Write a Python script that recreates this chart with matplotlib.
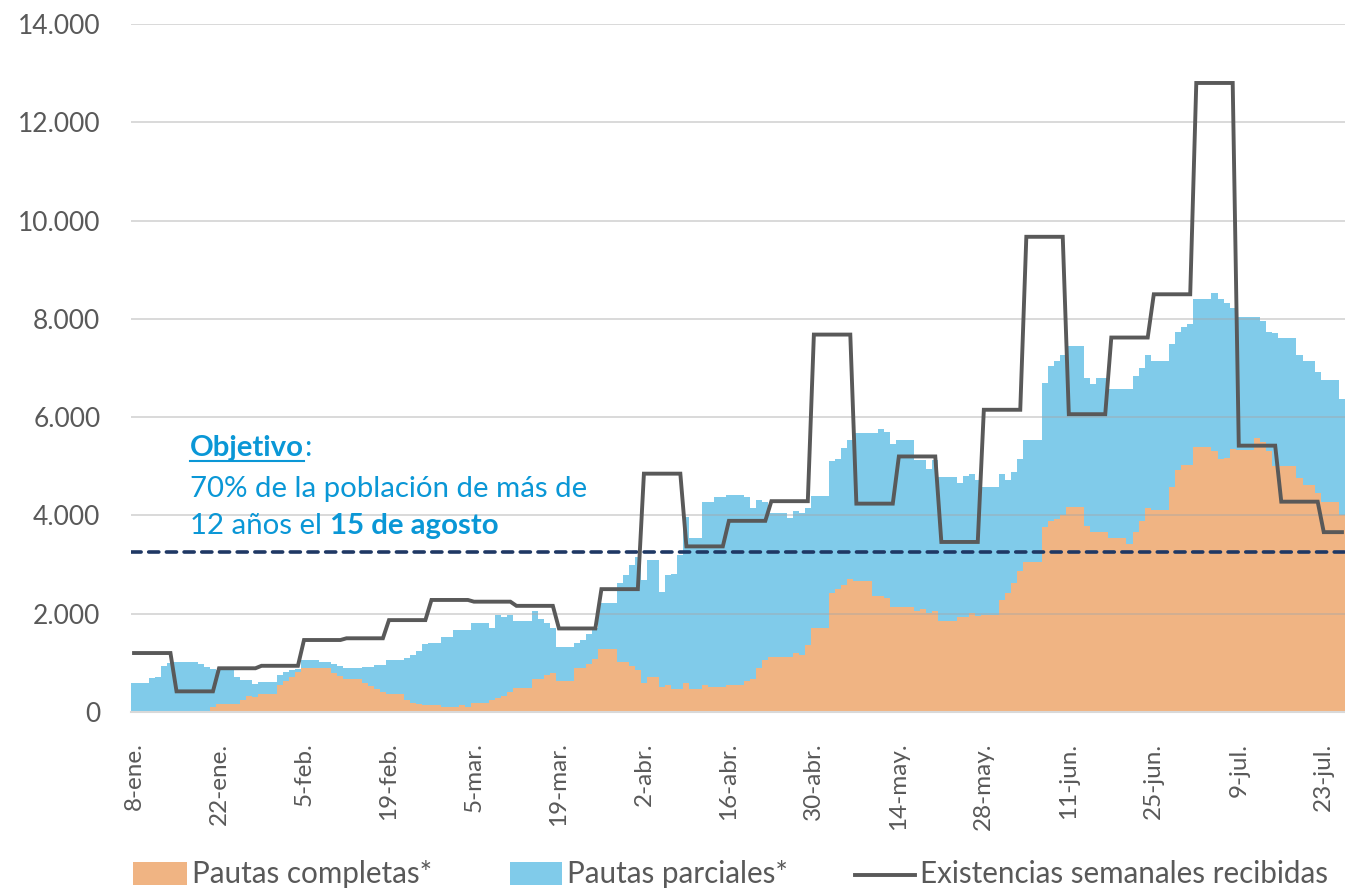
import matplotlib
matplotlib.use("Agg")
import matplotlib.pyplot as plt
import numpy as np
from matplotlib.lines import Line2D
from matplotlib.patches import Rectangle
from matplotlib.ticker import FuncFormatter

# daily values, 8-ene .. 26-jul (200 days)
pautas_completas = [
    0, 0, 0, 0, 0, 0, 0, 0, 0, 0,
    0, 0, 0, 110, 155, 155, 155, 155, 245, 325,
    300, 365, 365, 365, 550, 640, 705, 810, 890, 900,
    900, 900, 900, 800, 740, 665, 665, 665, 585, 530,
    460, 415, 365, 365, 365, 245, 190, 155, 140, 140,
    140, 110, 110, 110, 140, 110, 190, 190, 190, 245,
    290, 325, 415, 495, 495, 495, 670, 670, 755, 800,
    630, 630, 630, 890, 890, 970, 1070, 1275, 1275, 1275,
    1025, 1025, 935, 855, 585, 705, 705, 515, 550, 460,
    460, 585, 460, 460, 550, 500, 500, 500, 550, 550,
    550, 635, 670, 890, 1060, 1115, 1115, 1115, 1115, 1195,
    1160, 1365, 1715, 1715, 1715, 2415, 2495, 2585, 2705, 2665,
    2665, 2665, 2365, 2365, 2315, 2145, 2145, 2145, 2145, 2060,
    2100, 2020, 2060, 1850, 1850, 1850, 1925, 1925, 2010, 1960,
    1975, 1975, 1975, 2280, 2415, 2620, 2875, 3060, 3060, 3060,
    3760, 3885, 3920, 4010, 4180, 4180, 4180, 3790, 3670, 3670,
    3670, 3535, 3535, 3535, 3410, 3670, 3885, 4145, 4110, 4110,
    4110, 4570, 4925, 5025, 5025, 5400, 5400, 5400, 5310, 5140,
    5175, 5350, 5330, 5330, 5330, 5570, 5500, 5320, 5015, 5015,
    5015, 5015, 4755, 4620, 4620, 4450, 4280, 4280, 4280, 4010,
]

pautas_parciales = [
    590, 590, 590, 690, 720, 940, 1000, 1020, 1020, 1020,
    1020, 980, 920, 880, 855, 855, 855, 705, 650, 650,
    570, 620, 620, 620, 750, 820, 855, 880, 1060, 1060,
    1060, 1025, 1025, 975, 935, 890, 890, 890, 920, 920,
    955, 955, 1060, 1060, 1060, 1105, 1160, 1240, 1375, 1410,
    1410, 1535, 1535, 1670, 1670, 1670, 1805, 1805, 1805, 1715,
    1975, 1940, 1975, 1850, 1850, 1850, 2060, 1885, 1805, 1705,
    1330, 1330, 1330, 1410, 1465, 1585, 1705, 2225, 2225, 2225,
    2620, 2790, 2990, 3160, 2685, 3095, 3095, 2450, 2790, 2800,
    3195, 3975, 3535, 3535, 4280, 4280, 4380, 4380, 4415, 4415,
    4415, 4380, 4145, 4315, 4280, 4055, 4055, 4055, 3940, 4095,
    4055, 4150, 4395, 4395, 4395, 5110, 5140, 5365, 5535, 5670,
    5670, 5670, 5670, 5750, 5705, 5455, 5535, 5535, 5535, 5130,
    5130, 4940, 5130, 4790, 4790, 4790, 4665, 4800, 4845, 4720,
    4585, 4585, 4585, 4845, 4720, 4875, 5140, 5535, 5535, 5535,
    6700, 7050, 7145, 7265, 7450, 7450, 7450, 6790, 6670, 6790,
    6790, 6575, 6575, 6575, 6575, 6840, 7005, 7265, 7150, 7150,
    7150, 7490, 7740, 7840, 7890, 8400, 8400, 8400, 8520, 8400,
    8315, 8230, 8045, 8045, 8045, 8045, 7965, 7740, 7705, 7620,
    7620, 7620, 7265, 7145, 7145, 6925, 6755, 6755, 6755, 6360,
]

# one value per week, starting 8-ene
existencias_semanales = [
    1200, 420, 890, 940, 1465, 1500, 1870, 2280, 2245, 2160,
    1700, 2500, 4850, 3370, 3890, 4290, 7680, 4240, 5200, 3460,
    6150, 9670, 6060, 7620, 8500, 12800, 5420, 4280, 3660,
]

objetivo = 3250

tick_labels = ["8-ene.", "22-ene.", "5-feb.", "19-feb.", "5-mar.", "19-mar.",
               "2-abr.", "16-abr.", "30-abr.", "14-may.", "28-may.", "11-jun.",
               "25-jun.", "9-jul.", "23-jul."]

ORANGE = "#F0B483"
BLUE = "#80CBEA"
LINE = "#595959"
NAVY = "#1F3864"
TXT_BLUE = "#0A97D6"
GREY = "#595959"
FONT = ["Lato", "DejaVu Sans"]

plt.rcParams["font.family"] = FONT

W, H = 1345, 891
fig = plt.figure(figsize=(W / 100, H / 100), dpi=100)
ax = fig.add_axes([131 / W, 179 / H, 1214 / W, 688 / H])

n = len(pautas_completas)
edges = np.arange(n + 1) - 0.5
ax.stairs(pautas_parciales, edges, fill=True, color=BLUE, lw=0, zorder=1)
ax.stairs(pautas_completas, edges, fill=True, color=ORANGE, lw=0, zorder=1.2)

# weekly stock: flat over each week, joined day to day
lx, ly = [], []
for w, v in enumerate(existencias_semanales):
    start = 7 * w
    end = min(start + 6, n - 1)
    lx += [start, end]
    ly += [v, v]
ax.plot(lx, ly, color=LINE, lw=2.8, zorder=4, solid_joinstyle="miter")

ax.axhline(objetivo, color=NAVY, lw=2.6, dashes=(2.8, 2.1),
           dash_capstyle="round", zorder=3.5)

ax.set_xlim(-0.5, n - 0.5)
ax.set_ylim(0, 14000)
ax.set_yticks(range(0, 14001, 2000))
ax.yaxis.set_major_formatter(FuncFormatter(lambda v, _: f"{int(v):,}".replace(",", ".")))
ax.set_xticks(np.arange(len(tick_labels)) * 14)
ax.set_xticklabels(tick_labels, rotation=90, ha="center", va="top")

ax.grid(axis="y", color="#A6A6A6", alpha=0.45, lw=1.3)
ax.set_axisbelow(False)
for s in ["top", "right", "left"]:
    ax.spines[s].set_visible(False)
ax.spines["bottom"].set_color("#D9D9D9")
ax.spines["bottom"].set_linewidth(1.5)
ax.spines["bottom"].set_zorder(5)
ax.tick_params(axis="y", length=0, pad=22, labelsize=19, labelcolor=GREY)
ax.tick_params(axis="x", length=0, pad=22, labelsize=17.5, labelcolor=GREY)

# annotation
FS = 21.2
renderer = fig.canvas.get_renderer()
x0 = 190 / W
t1 = fig.text(x0, 1 - 456 / H, "Objetivo", color=TXT_BLUE, fontsize=FS,
              fontweight="bold", va="baseline")
bb = t1.get_window_extent(renderer)
fig.text(bb.x1 / W, 1 - 456 / H, ":", color=TXT_BLUE, fontsize=FS, va="baseline")
fig.add_artist(Line2D([bb.x0 / W, bb.x1 / W], [1 - 461 / H] * 2,
                      color=TXT_BLUE, lw=1.5))
fig.text(x0, 1 - 497 / H, "70% de la población de más de", color=TXT_BLUE,
         fontsize=FS, va="baseline")
t3 = fig.text(x0, 1 - 534 / H, "12 años el ", color=TXT_BLUE, fontsize=FS,
              va="baseline")
bb3 = t3.get_window_extent(renderer)
fig.text(bb3.x1 / W, 1 - 534 / H, "15 de agosto", color=TXT_BLUE, fontsize=FS,
         fontweight="bold", va="baseline")

# legend
LFS = 21.3

def legend_patch(x, width, color, label, tx):
    fig.add_artist(Rectangle((x / W, 1 - 885 / H), width / W, 23 / H,
                             transform=fig.transFigure, color=color, lw=0))
    fig.text(tx / W, 1 - 883 / H, label, color=GREY, fontsize=LFS, va="baseline")

legend_patch(133, 54, ORANGE, "Pautas completas*", 192)
legend_patch(510, 52, BLUE, "Pautas parciales*", 567)
fig.add_artist(Line2D([855 / W, 915 / W], [1 - 875 / H] * 2, color=LINE, lw=2.8))
fig.text(920 / W, 1 - 883 / H, "Existencias semanales recibidas", color=GREY,
         fontsize=LFS, va="baseline")

fig.savefig("out.png", dpi=100)
